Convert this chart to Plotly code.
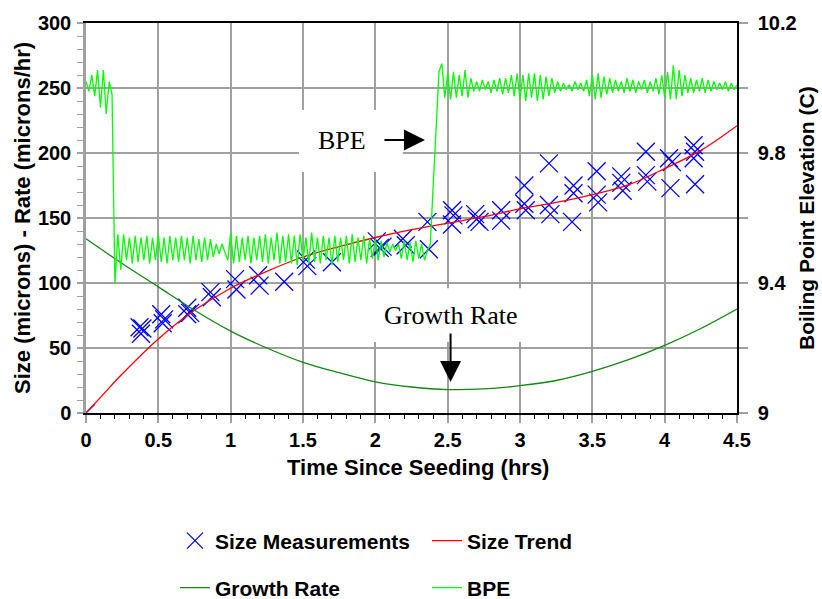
import numpy as np
import plotly.graph_objects as go

# ---------------- data ----------------
meas_t = [0.00,
          0.37, 0.39, 0.38,
          0.52, 0.54, 0.53,
          0.70, 0.70, 0.72,
          0.86, 0.87,
          1.03, 1.04,
          1.19, 1.20,
          1.37,
          1.52, 1.53,
          1.70,
          2.01, 2.03, 2.05,
          2.19, 2.21,
          2.36, 2.37,
          2.53, 2.54, 2.53,
          2.69, 2.70, 2.72,
          2.87, 2.87,
          3.03, 3.03, 3.04,
          3.20, 3.20, 3.21,
          3.37, 3.37, 3.36,
          3.53, 3.53, 3.54,
          3.70, 3.70, 3.71,
          3.87, 3.87, 3.88,
          4.03, 4.05, 4.04,
          4.20, 4.21, 4.20, 4.21]
meas_v = [0,
          66, 65, 61,
          76, 72, 69,
          81, 76, 77,
          93, 89,
          103, 95,
          106, 98,
          101,
          118, 113,
          116,
          132, 127, 128,
          134, 129,
          147, 126,
          156, 152, 145,
          153, 149, 147,
          156, 148,
          175, 161, 156,
          192, 160, 153,
          175, 169, 147,
          186, 168, 162,
          182, 177, 171,
          201, 183, 178,
          196, 193, 173,
          206, 201, 196, 176]

trend_t = [0, 0.1, 0.25, 0.5, 0.75, 1.0, 1.25, 1.5, 1.75, 2.0, 2.25, 2.5,
           2.75, 3.0, 3.25, 3.5, 3.75, 4.0, 4.25, 4.5]
trend_v = [0, 12, 30, 57, 79, 96, 109, 120, 128, 135, 141, 146,
           151, 157, 162, 168, 175.5, 188, 202, 221]

growth_t = [0, 0.25, 0.5, 0.75, 1.0, 1.25, 1.5, 1.75, 2.0, 2.25, 2.5,
            2.75, 3.0, 3.25, 3.5, 3.75, 4.0, 4.25, 4.5]
growth_v = [134, 115, 97, 79, 63, 50, 39, 31, 24, 20, 18,
            18.5, 21, 25, 32, 41, 52, 65, 80]

# BPE sampled every 0.02 hr
bpe_step = 0.02
bpe_start = [10.02, 9.99, 10.04, 9.975, 10.055, 9.94, 10.055, 9.92, 10.02, 9.98,
             9.40]
bpe_low = [9.55, 9.44, 9.55, 9.47, 9.54, 9.46, 9.545, 9.465, 9.54, 9.47,
           9.545, 9.46, 9.54, 9.47, 9.55, 9.465, 9.54, 9.46, 9.545, 9.47,
           9.54, 9.465, 9.545, 9.47, 9.54, 9.46, 9.545, 9.47, 9.535, 9.465,
           9.54, 9.47, 9.535, 9.48, 9.52, 9.49, 9.52, 9.495, 9.47, 9.555,
           9.46, 9.545, 9.465, 9.54, 9.47, 9.545, 9.46, 9.54, 9.47, 9.545,
           9.465, 9.55, 9.46, 9.54, 9.47, 9.555, 9.46, 9.545, 9.465, 9.55,
           9.46, 9.545, 9.455, 9.55, 9.47, 9.54, 9.46, 9.555, 9.465, 9.54,
           9.46, 9.545, 9.47, 9.54, 9.455, 9.545, 9.465, 9.54, 9.47, 9.545,
           9.46, 9.55, 9.465, 9.54, 9.47, 9.545, 9.46, 9.535, 9.475, 9.535,
           9.47, 9.53, 9.48, 9.525, 9.495, 9.52, 9.50, 9.52, 9.475, 9.53,
           9.47, 9.525, 9.465, 9.53, 9.475, 9.52, 9.47, 9.50]
bpe_rise = [9.52, 9.70, 9.88, 10.05, 10.075]
bpe_high = [9.97, 10.045, 9.965, 10.05, 9.97, 10.04, 9.975, 10.055, 9.97, 10.03,
            9.99, 10.02, 9.99, 10.025, 9.995, 10.02, 9.985, 10.025, 9.99, 10.03,
            9.98, 10.03, 9.985, 10.04, 9.975, 10.045, 9.965, 10.04, 9.96, 10.045,
            9.97, 10.045, 9.96, 10.04, 9.965, 10.035, 9.975, 10.03, 9.985, 10.02,
            9.99, 10.015, 9.995, 10.01, 9.99, 10.02, 9.995, 10.015, 9.99, 10.025,
            9.975, 10.04, 9.965, 10.045, 9.97, 10.035, 9.98, 10.03, 9.985, 10.025,
            9.99, 10.02, 9.985, 10.03, 9.99, 10.025, 9.985, 10.02, 9.995, 10.025,
            9.985, 10.02, 9.99, 10.03, 9.98, 10.04, 9.97, 10.05, 9.965, 10.07,
            9.965, 10.055, 9.975, 10.04, 9.985, 10.03, 9.985, 10.025, 9.99, 10.03,
            9.985, 10.025, 9.99, 10.02, 9.995, 10.015, 9.995, 10.02, 9.99, 10.015,
            9.995, 10.01]
bpe_v = bpe_start + bpe_low + bpe_rise + bpe_high
bpe_t = list(np.round(np.arange(len(bpe_v)) * bpe_step, 3))

x_ticks = [0, 0.5, 1, 1.5, 2, 2.5, 3, 3.5, 4, 4.5]
x_ticktext = ["0", "0.5", "1", "1.5", "2", "2.5", "3", "3.5", "4", "4.5"]
y2_ticks = [9, 9.4, 9.8, 10.2]
y2_ticktext = ["9", "9.4", "9.8", "10.2"]

x_title = "Time Since Seeding (hrs)"
y_title = "Size (microns) - Rate (microns/hr)"
y2_title = "Boiling Point Elevation (C)"

# ---------------- figure ----------------
SANS = "Liberation Sans, Arial, sans-serif"
SERIF = "Liberation Serif, Times New Roman, serif"
GRID = "#a0a0a0"
FS = 20

fig = go.Figure()
fig.add_trace(go.Scatter(
    x=meas_t, y=meas_v, mode="markers", name="Size Measurements",
    marker=dict(symbol="x-thin", size=18, color="#0000ff",
                line=dict(color="#0000ff", width=1.3)),
    legend="legend"))
fig.add_trace(go.Scatter(
    x=trend_t, y=trend_v, mode="lines", name="Size Trend",
    line=dict(color="#ff0000", width=1.3, shape="spline"),
    legend="legend2"))
fig.add_trace(go.Scatter(
    x=growth_t, y=growth_v, mode="lines", name="Growth Rate",
    line=dict(color="#118811", width=1.3, shape="spline"),
    legend="legend3"))
fig.add_trace(go.Scatter(
    x=bpe_t, y=bpe_v, mode="lines", name="BPE", yaxis="y2",
    line=dict(color="#00ff00", width=1.3),
    legend="legend4"))

legend_font = dict(family=SANS, size=21, color="black", weight="bold")
def leg(x, y):
    return dict(x=x, y=y, xref="container", yref="container",
                orientation="h", xanchor="left", yanchor="middle",
                font=legend_font, bgcolor="rgba(0,0,0,0)", borderwidth=0)

fig.update_layout(
    width=822, height=599,
    margin=dict(l=86, r=85, t=23, b=186, autoexpand=False),
    paper_bgcolor="white", plot_bgcolor="white",
    font=dict(family=SANS, size=FS, color="black"),
    showlegend=True,
    legend=leg(175 / 822, 1 - 541 / 599),
    legend2=leg(427 / 822, 1 - 541 / 599),
    legend3=leg(175 / 822, 1 - 588 / 599),
    legend4=leg(427 / 822, 1 - 588 / 599),
    xaxis=dict(
        range=[0, 4.5], tickvals=x_ticks, ticktext=x_ticktext,
        showgrid=True, gridcolor=GRID, gridwidth=1.5,
        showline=True, linecolor="black", linewidth=1.5, mirror=True,
        ticks="outside", ticklen=8, tickcolor=GRID, tickwidth=1.5,
        minor=dict(dtick=0.1, tick0=0, ticks="outside", ticklen=4,
                   tickcolor="black", tickwidth=1, showgrid=False),
        zeroline=False,
        tickfont=dict(family=SANS, size=FS, weight="bold"),
    ),
    yaxis=dict(
        range=[0, 300], dtick=50, tick0=0,
        showgrid=True, gridcolor=GRID, gridwidth=1.5,
        showline=True, linecolor=GRID, linewidth=2.5,
        ticks="outside", ticklen=6, tickcolor=GRID, tickwidth=1.5,
        minor=dict(dtick=10, tick0=0, ticks="outside", ticklen=6,
                   tickcolor=GRID, tickwidth=1, showgrid=False),
        zeroline=False, ticklabelstandoff=2,
        tickfont=dict(family=SANS, size=FS, weight="bold"),
    ),
    yaxis2=dict(
        overlaying="y", side="right", range=[9, 10.2],
        tickvals=y2_ticks, ticktext=y2_ticktext,
        showgrid=False, zeroline=False,
        showline=True, linecolor="black", linewidth=1.5,
        ticks="outside", ticklen=9, tickcolor=GRID, tickwidth=1.5,
        minor=dict(dtick=0.2, tick0=9, ticks="outside", ticklen=9,
                   tickcolor=GRID, tickwidth=1.5, showgrid=False),
        ticklabelstandoff=6,
        tickfont=dict(family=SANS, size=FS, weight="bold"),
    ),
)

# axis titles (placed in the margins)
fig.add_annotation(text=x_title, xref="paper", yref="paper",
                   x=(418 - 86) / 651, y=(413 - 467) / 390,
                   xanchor="center", yanchor="middle", showarrow=False,
                   font=dict(family=SANS, size=22, weight="bold", color="black"))
fig.add_annotation(text=y_title, xref="paper", yref="paper",
                   x=(22 - 86) / 651, y=0.5, textangle=-90,
                   xanchor="center", yanchor="middle", showarrow=False,
                   font=dict(family=SANS, size=22, weight="bold", color="black"))
fig.add_annotation(text=y2_title, xref="paper", yref="paper",
                   x=(806 - 86) / 651, y=0.5, textangle=-90,
                   xanchor="center", yanchor="middle", showarrow=False,
                   font=dict(family=SANS, size=21, weight="bold", color="black"))

# white label boxes (between grid and traces)
fig.add_shape(type="rect", xref="x", yref="y", x0=1.472, x1=2.19, y0=185.4, y1=233,
              fillcolor="white", line=dict(width=0), layer="between")
fig.add_shape(type="rect", xref="x", yref="y", x0=1.907, x1=3.137, y0=54.6, y1=96,
              fillcolor="white", line=dict(width=0), layer="between")

ann_font = dict(family=SERIF, size=26, color="black")
fig.add_annotation(x=1.77, y=210, xref="x", yref="y", text="BPE",
                   showarrow=False, font=ann_font)
fig.add_annotation(x=2.343, y=210, xref="x", yref="y", text="",
                   showarrow=True, ax=-42, ay=0, arrowhead=2, arrowsize=2.1,
                   arrowwidth=2, arrowcolor="black")
fig.add_annotation(x=2.524, y=75, xref="x", yref="y", text="Growth Rate",
                   showarrow=False, font=ann_font)
fig.add_annotation(x=2.52, y=23.8, xref="x", yref="y", text="",
                   showarrow=True, ax=0, ay=-50, arrowhead=2, arrowsize=2.1,
                   arrowwidth=2, arrowcolor="black")

fig.write_html("out.html",
               config={"displayModeBar": False},
               post_script="document.body.style.margin='0px';")
